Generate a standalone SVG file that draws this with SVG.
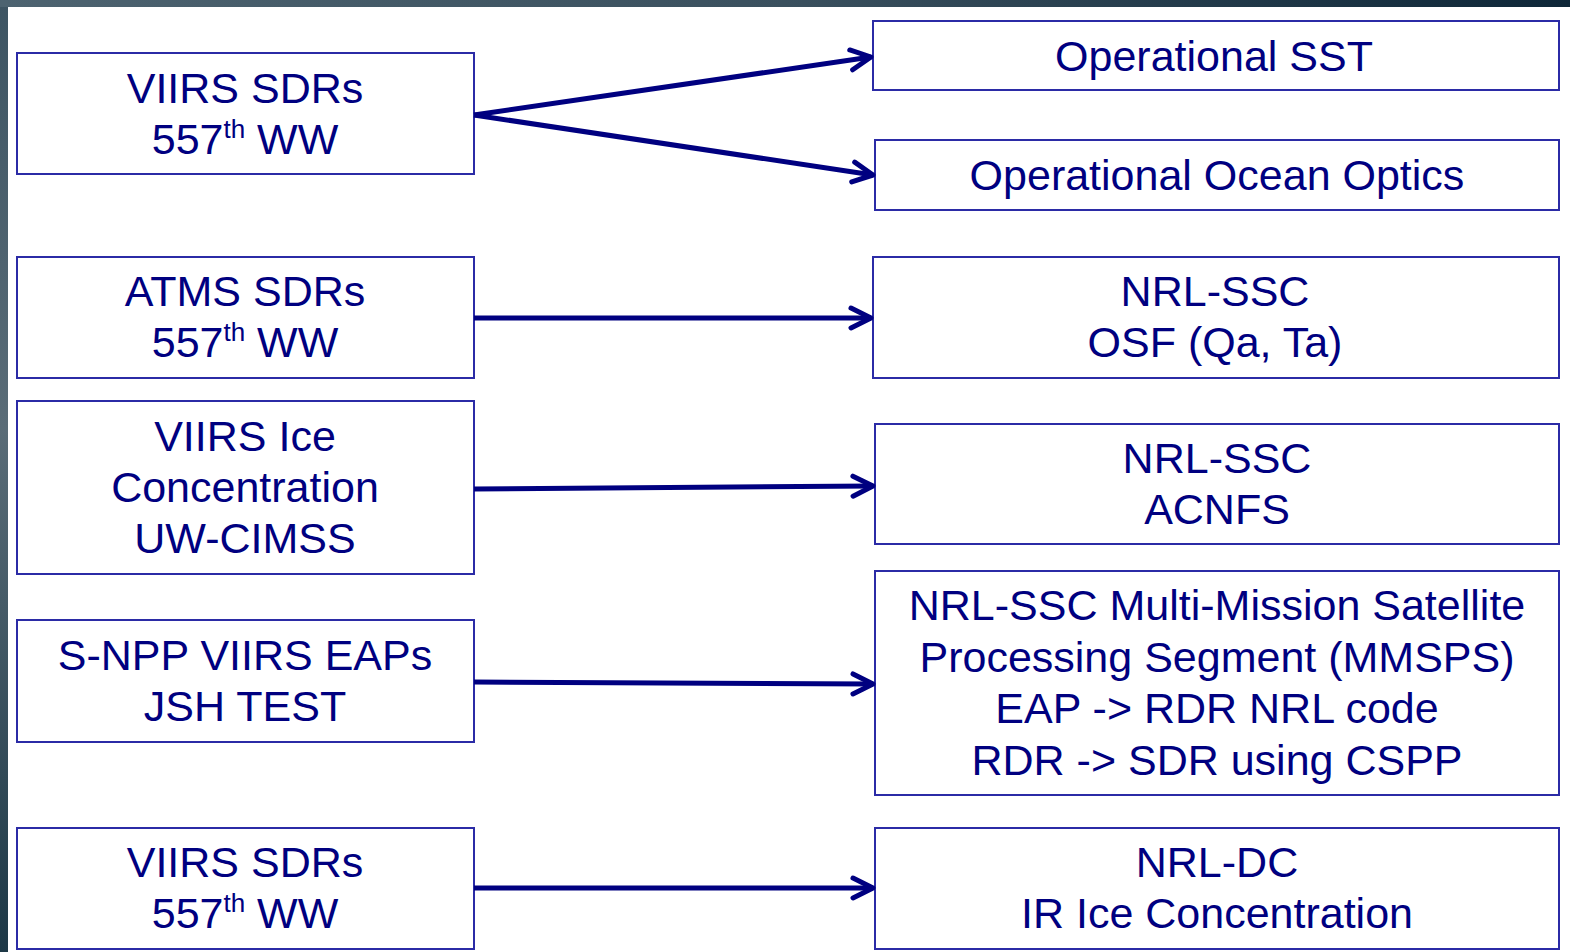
<svg xmlns="http://www.w3.org/2000/svg" width="1570" height="952" viewBox="0 0 1570 952">
<defs>
<linearGradient id="topband" x1="0" y1="0" x2="1" y2="0">
<stop offset="0" stop-color="#4d6370"/>
<stop offset="0.5" stop-color="#3a505e"/>
<stop offset="1" stop-color="#0e2738"/>
</linearGradient>
<linearGradient id="leftband" x1="0" y1="0" x2="0" y2="1">
<stop offset="0" stop-color="#3d5462"/>
<stop offset="0.45" stop-color="#5a6c77"/>
<stop offset="1" stop-color="#1d3846"/>
</linearGradient>
<marker id="arr" markerUnits="userSpaceOnUse" markerWidth="40" markerHeight="40" viewBox="-30 -20 40 40" refX="0" refY="0" orient="auto">
<path d="M-20,-10 L0,0 L-20,10" fill="none" stroke="#000080" stroke-width="5" stroke-linecap="round" stroke-linejoin="round"/>
</marker>
</defs>
<style>
.box{fill:#ffffff;stroke:#2b2ba6;stroke-width:2}
.t{font-family:"Liberation Sans",Arial,sans-serif;font-size:43px;fill:#000080;text-anchor:middle}
.sup{font-size:26px}
.c{fill:none;stroke:#000080;stroke-width:5;marker-end:url(#arr)}
</style>
<rect x="0" y="0" width="1570" height="952" fill="url(#leftband)"/>
<rect x="0" y="0" width="1570" height="7" fill="url(#topband)"/>
<rect x="8" y="7" width="1562" height="945" fill="#ffffff"/>

<g id="n-viirs-sdrs-1">
<rect class="box" x="17" y="53" width="457" height="121"/>
<text class="t" x="245" y="103">VIIRS SDRs</text>
<text class="t" x="245" y="154">557<tspan class="sup" dy="-16">th</tspan><tspan dy="16"> WW</tspan></text>
</g>
<g id="n-atms-sdrs">
<rect class="box" x="17" y="257" width="457" height="121"/>
<text class="t" x="245" y="306">ATMS SDRs</text>
<text class="t" x="245" y="357">557<tspan class="sup" dy="-16">th</tspan><tspan dy="16"> WW</tspan></text>
</g>
<g id="n-viirs-ice">
<rect class="box" x="17" y="401" width="457" height="173"/>
<text class="t" x="245" y="451">VIIRS Ice</text>
<text class="t" x="245" y="502">Concentration</text>
<text class="t" x="245" y="553">UW-CIMSS</text>
</g>
<g id="n-snpp-eaps">
<rect class="box" x="17" y="620" width="457" height="122"/>
<text class="t" x="245" y="670">S-NPP VIIRS EAPs</text>
<text class="t" x="245" y="721">JSH TEST</text>
</g>
<g id="n-viirs-sdrs-2">
<rect class="box" x="17" y="828" width="457" height="121"/>
<text class="t" x="245" y="877">VIIRS SDRs</text>
<text class="t" x="245" y="928">557<tspan class="sup" dy="-16">th</tspan><tspan dy="16"> WW</tspan></text>
</g>

<g id="n-op-sst">
<rect class="box" x="873" y="21" width="686" height="69"/>
<text class="t" x="1214" y="71">Operational SST</text>
</g>
<g id="n-op-ocean-optics">
<rect class="box" x="875" y="140" width="684" height="70"/>
<text class="t" x="1217" y="190">Operational Ocean Optics</text>
</g>
<g id="n-nrl-osf">
<rect class="box" x="873" y="257" width="686" height="121"/>
<text class="t" x="1215" y="306">NRL-SSC</text>
<text class="t" x="1215" y="357">OSF (Qa, Ta)</text>
</g>
<g id="n-nrl-acnfs">
<rect class="box" x="875" y="424" width="684" height="120"/>
<text class="t" x="1217" y="473">NRL-SSC</text>
<text class="t" x="1217" y="524">ACNFS</text>
</g>
<g id="n-nrl-mmsps">
<rect class="box" x="875" y="571" width="684" height="224"/>
<text class="t" x="1217" y="620">NRL-SSC Multi-Mission Satellite</text>
<text class="t" x="1217" y="672">Processing Segment (MMSPS)</text>
<text class="t" x="1217" y="723">EAP -&gt; RDR NRL code</text>
<text class="t" x="1217" y="775">RDR -&gt; SDR using CSPP</text>
</g>
<g id="n-nrl-dc">
<rect class="box" x="875" y="828" width="684" height="121"/>
<text class="t" x="1217" y="877">NRL-DC</text>
<text class="t" x="1217" y="928">IR Ice Concentration</text>
</g>

<g id="connectors">
<line class="c" x1="474" y1="115" x2="871" y2="57"/>
<line class="c" x1="474" y1="115" x2="873" y2="175"/>
<line class="c" x1="474" y1="318" x2="871" y2="318"/>
<line class="c" x1="474" y1="489" x2="873" y2="486"/>
<line class="c" x1="474" y1="682" x2="873" y2="684"/>
<line class="c" x1="474" y1="888" x2="873" y2="888"/>
</g>
</svg>
